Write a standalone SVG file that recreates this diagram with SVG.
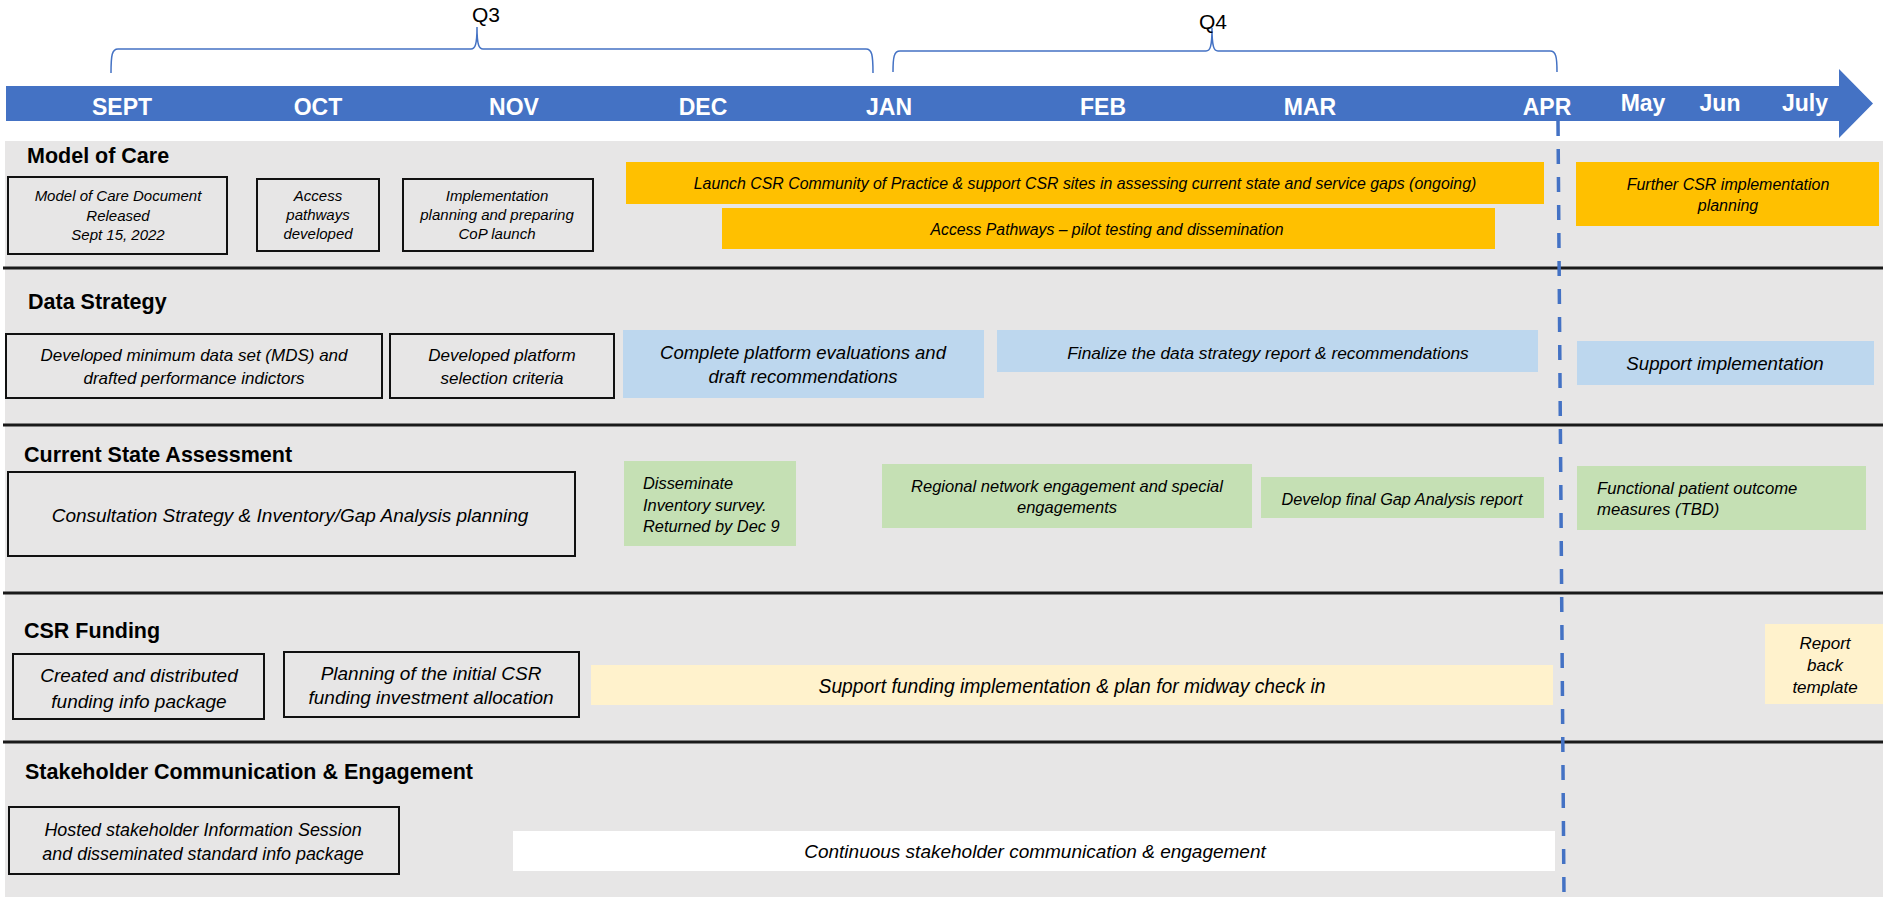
<svg xmlns="http://www.w3.org/2000/svg" width="1883" height="897" viewBox="0 0 1883 897">
<style>
.bg{fill:#E7E6E6}
.box{fill:#E7E6E6;stroke:#111;stroke-width:2}
.orange{fill:#FFC000}
.blue{fill:#BDD7EE}
.green{fill:#C5E0B4}
.yellow{fill:#FFF2CC}
.white{fill:#FFFFFF}
.hdr{font-family:"Liberation Sans",Arial,sans-serif;font-weight:bold;font-size:21.5px;fill:#000}
.t{font-family:"Liberation Sans",Arial,sans-serif;font-style:italic;fill:#000;text-anchor:middle}
.tl{font-family:"Liberation Sans",Arial,sans-serif;font-style:italic;fill:#000;text-anchor:start}
.month{font-family:"Liberation Sans",Arial,sans-serif;font-weight:bold;font-size:23px;fill:#fff;text-anchor:middle}
.q{font-family:"Liberation Sans",Arial,sans-serif;font-size:21px;fill:#000;text-anchor:middle}
.div{stroke:#1a1a1a;stroke-width:3}
.brace{fill:none;stroke:#4472C4;stroke-width:1.5}
</style>
<rect x="0" y="0" width="1883" height="897" fill="#fff"/>
<rect class="bg" x="5" y="141" width="1878" height="756"/>

<g id="timeline">
<polygon points="6,86 1839,86 1839,69 1873,103.5 1839,138 1839,121 6,121" fill="#4472C4"/>
<text class="month" x="122" y="115">SEPT</text>
<text class="month" x="318" y="115">OCT</text>
<text class="month" x="514" y="115">NOV</text>
<text class="month" x="703" y="115">DEC</text>
<text class="month" x="889" y="115">JAN</text>
<text class="month" x="1103" y="115">FEB</text>
<text class="month" x="1310" y="115">MAR</text>
<text class="month" x="1547" y="115">APR</text>
<text class="month" x="1643" y="111">May</text>
<text class="month" x="1720" y="111">Jun</text>
<text class="month" x="1805" y="111">July</text>
</g>

<g id="quarters">
<path class="brace" d="M111,73 C111,55 112,49 118,49 L471,49 C475,49 477,45 477,27 C477,45 479,49 483,49 L866,49 C872,49 873,55 873,73"/>
<text class="q" x="486" y="22">Q3</text>
<path class="brace" d="M893,72 C893,57 894,51 900,51 L1206,51 C1210,51 1212,47 1212,28 C1212,47 1214,51 1218,51 L1550,51 C1556,51 1557,57 1557,72"/>
<text class="q" x="1213" y="29">Q4</text>
</g>

<g id="dividers">
<line class="div" x1="3" y1="268" x2="1883" y2="268"/>
<line class="div" x1="3" y1="425" x2="1883" y2="425"/>
<line class="div" x1="3" y1="593" x2="1883" y2="593"/>
<line class="div" x1="3" y1="742" x2="1883" y2="742"/>
</g>

<g id="headers">
<text class="hdr" x="27" y="163">Model of Care</text>
<text class="hdr" x="28" y="309">Data Strategy</text>
<text class="hdr" x="24" y="462">Current State Assessment</text>
<text class="hdr" x="24" y="638">CSR Funding</text>
<text class="hdr" x="25" y="779">Stakeholder Communication &amp; Engagement</text>
</g>

<g id="moc-doc">
<rect class="box" x="8" y="177" width="219" height="77"/>
<text class="t" font-size="15"><tspan x="118" y="201">Model of Care Document</tspan><tspan x="118" y="221">Released</tspan><tspan x="118" y="240">Sept 15, 2022</tspan></text>
</g>
<g id="moc-access">
<rect class="box" x="257" y="179" width="122" height="72"/>
<text class="t" font-size="15"><tspan x="318" y="201">Access</tspan><tspan x="318" y="220">pathways</tspan><tspan x="318" y="239">developed</tspan></text>
</g>
<g id="moc-impl">
<rect class="box" x="403" y="179" width="190" height="72"/>
<text class="t" font-size="15"><tspan x="497" y="201">Implementation</tspan><tspan x="497" y="220">planning and preparing</tspan><tspan x="497" y="239">CoP launch</tspan></text>
</g>
<g id="moc-launch">
<rect class="orange" x="626" y="162" width="918" height="42"/>
<text class="t" font-size="15.9" x="1085" y="188.5">Launch CSR Community of Practice &amp; support CSR sites in assessing current state and service gaps (ongoing)</text>
</g>
<g id="moc-pilot">
<rect class="orange" x="722" y="208" width="773" height="41"/>
<text class="t" font-size="15.8" x="1107" y="235">Access Pathways – pilot testing and dissemination</text>
</g>
<g id="moc-further">
<rect class="orange" x="1576" y="162" width="303" height="64"/>
<text class="t" font-size="16"><tspan x="1728" y="190">Further CSR implementation</tspan><tspan x="1728" y="211">planning</tspan></text>
</g>

<g id="ds-mds">
<rect class="box" x="6" y="334" width="376" height="64"/>
<text class="t" font-size="17"><tspan x="194" y="361">Developed minimum data set (MDS) and</tspan><tspan x="194" y="384">drafted performance indictors</tspan></text>
</g>
<g id="ds-criteria">
<rect class="box" x="390" y="334" width="224" height="64"/>
<text class="t" font-size="17"><tspan x="502" y="361">Developed platform</tspan><tspan x="502" y="384">selection criteria</tspan></text>
</g>
<g id="ds-eval">
<rect class="blue" x="623" y="330" width="361" height="68"/>
<text class="t" font-size="18.5"><tspan x="803" y="359">Complete platform evaluations and</tspan><tspan x="803" y="383">draft recommendations</tspan></text>
</g>
<g id="ds-final">
<rect class="blue" x="997" y="330" width="541" height="42"/>
<text class="t" font-size="17.3" x="1268" y="359">Finalize the data strategy report &amp; recommendations</text>
</g>
<g id="ds-support">
<rect class="blue" x="1577" y="341" width="297" height="44"/>
<text class="t" font-size="18.7" x="1725" y="369.5">Support implementation</text>
</g>

<g id="csa-consult">
<rect class="box" x="8" y="472" width="567" height="84"/>
<text class="t" font-size="19" x="290" y="521.5">Consultation Strategy &amp; Inventory/Gap Analysis planning</text>
</g>
<g id="csa-survey">
<rect class="green" x="624" y="461" width="172" height="85"/>
<text class="tl" font-size="16.4"><tspan x="643" y="489">Disseminate</tspan><tspan x="643" y="511">Inventory survey.</tspan><tspan x="643" y="532">Returned by Dec 9</tspan></text>
</g>
<g id="csa-regional">
<rect class="green" x="882" y="464" width="370" height="64"/>
<text class="t" font-size="16.5"><tspan x="1067" y="492">Regional network engagement and special</tspan><tspan x="1067" y="513">engagements</tspan></text>
</g>
<g id="csa-gap">
<rect class="green" x="1261" y="477" width="283" height="41"/>
<text class="t" font-size="16.3" x="1402" y="505">Develop final Gap Analysis report</text>
</g>
<g id="csa-outcome">
<rect class="green" x="1577" y="466" width="289" height="64"/>
<text class="tl" font-size="16.7"><tspan x="1597" y="494">Functional patient outcome</tspan><tspan x="1597" y="515">measures (TBD)</tspan></text>
</g>

<g id="fund-package">
<rect class="box" x="13" y="654" width="251" height="65"/>
<text class="t" font-size="19"><tspan x="139" y="682">Created and distributed</tspan><tspan x="139" y="708">funding info package</tspan></text>
</g>
<g id="fund-planning">
<rect class="box" x="284" y="652" width="295" height="65"/>
<text class="t" font-size="19"><tspan x="431" y="680">Planning of the initial CSR</tspan><tspan x="431" y="704">funding investment allocation</tspan></text>
</g>
<g id="fund-support">
<rect class="yellow" x="591" y="665" width="962" height="40"/>
<text class="t" font-size="19.3" x="1072" y="693">Support funding implementation &amp; plan for midway check in</text>
</g>
<g id="fund-report">
<rect class="yellow" x="1765" y="624" width="118" height="80"/>
<text class="t" font-size="17"><tspan x="1825" y="649">Report</tspan><tspan x="1825" y="671">back</tspan><tspan x="1825" y="693">template</tspan></text>
</g>

<g id="sh-session">
<rect class="box" x="9" y="807" width="390" height="67"/>
<text class="t" font-size="17.9"><tspan x="203" y="836">Hosted stakeholder Information Session</tspan><tspan x="203" y="860">and disseminated standard info package</tspan></text>
</g>
<g id="sh-continuous">
<rect class="white" x="513" y="831" width="1042" height="40"/>
<text class="t" font-size="19" x="1035" y="858">Continuous stakeholder communication &amp; engagement</text>
</g>

<g id="connectors">
<line x1="1558" y1="121" x2="1564" y2="897" stroke="#4472C4" stroke-width="3.5" stroke-dasharray="15,13"/>
</g>
</svg>
